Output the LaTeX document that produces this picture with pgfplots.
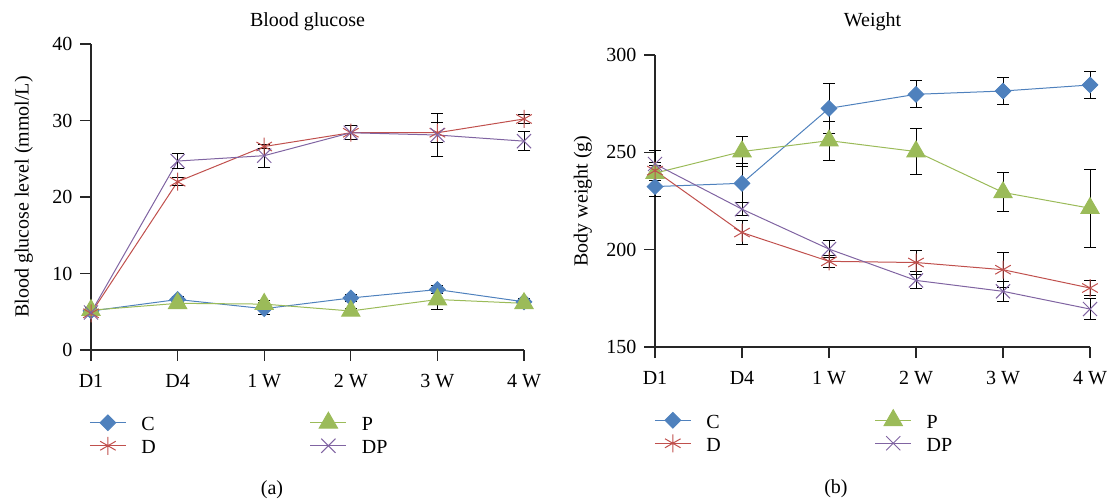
\documentclass[border=0pt]{standalone}
\usepackage{fontspec}
\setmainfont{Liberation Serif}
\usepackage{pgfplots}
\pgfplotsset{compat=1.18}
\definecolor{cC}{HTML}{4F81BD}
\definecolor{cD}{HTML}{C0504D}
\definecolor{cP}{HTML}{9BBB59}
\definecolor{cDP}{HTML}{8064A2}
\pgfplotsset{
  base/.style={
    scale only axis, clip=false,
    font=\fontsize{20}{24}\selectfont,
    axis lines=left, axis line style={-, line width=1.1pt, black!85},
    tick align=outside, major tick length=11pt,
    every tick/.style={line width=1.1pt, black!85},
    xmin=0, xmax=5, xtick={0,...,5},
    xticklabels={D1,D4,1 W,2 W,3 W,4 W},
    xticklabel style={yshift=-10pt},
    yticklabel style={xshift=-4pt},
    /pgf/number format/assume math mode=true,
    legend columns=2,
    legend cell align=left,
    legend style={draw=none, fill=none, font=\fontsize{20}{24}\selectfont, anchor=north west,
       nodes={text height=17pt},
       /tikz/every odd column/.append style={column sep=13pt},
       /tikz/every even column/.append style={column sep=152pt}},
    legend image code/.code={\path[draw=none,fill=none] (0pt,-11.5pt) -- (0pt,11.5pt);\draw[mark repeat=2,mark phase=2,##1] plot coordinates {(0pt,0pt) (18pt,0pt) (36pt,0pt)};},
  },
  eb/.style={error bars/.cd, y dir=both, y explicit,
    error bar style={black, line width=1pt},
    error mark options={black, line width=1pt, mark size=6pt, rotate=90}},
  sC/.style={color=cC, line width=1pt, mark=square*, mark size=5.5pt, mark options={rotate=45, fill=cC, draw=cC, solid}},
  sP/.style={color=cP, line width=1pt, mark=triangle*, mark size=10.5pt, mark options={fill=cP, draw=cP, solid}},
  sD/.style={color=cD, line width=1pt, mark=asterisk, mark size=9pt, mark options={draw=cD, line width=1pt, solid}},
  sDP/.style={color=cDP, line width=1pt, mark=x, mark size=10pt, mark options={draw=cDP, line width=1pt, solid}},
}
\begin{document}
\begin{tikzpicture}
\useasboundingbox (0pt,0pt) rectangle (1107pt,500pt);
% ---------------- (a) Blood glucose
\begin{axis}[base,
  at={(91pt,150pt)}, anchor=south west,
  width=433pt, height=306pt,
  ymin=0, ymax=40, ytick={0,10,20,30,40},
  title={Blood glucose},
  title style={at={(axis description cs:0.5,1)}, anchor=base, yshift=11pt},
  ylabel={Blood glucose level (mmol/L)},
  ylabel style={at={(axis description cs:-0.155,0.5)}, anchor=center},
  legend style={at={(axis description cs:-0.011,-0.193)}},
]
\addplot[sC, eb] coordinates {(0,5.1) +- (0,0.4) (1,6.6) +- (0,0.4) (2,5.4) +- (0,0.8) (3,6.8) +- (0,0.4) (4,7.9) +- (0,0.5) (5,6.3) +- (0,0.4)};
\addlegendentry{C}
\addplot[sP, eb] coordinates {(0,5.2) +- (0,0.3) (1,6.1) +- (0,0.3) (2,6.0) +- (0,0.5) (3,5.1) +- (0,0.3) (4,6.6) +- (0,1.3) (5,6.1) +- (0,0.3)};
\addlegendentry{P}
\addplot[sD, eb] coordinates {(0,4.8) +- (0,0.3) (1,22.0) +- (0,0.5) (2,26.6) +- (0,0.3) (3,28.4) +- (0,0.9) (4,28.4) +- (0,1.3) (5,30.2) +- (0,0.6)};
\addlegendentry{D}
\addplot[sDP, eb] coordinates {(0,4.9) +- (0,0.3) (1,24.7) +- (0,1.0) (2,25.4) +- (0,1.5) (3,28.4) +- (0,0.9) (4,28.1) +- (0,2.8) (5,27.3) +- (0,1.2)};
\addlegendentry{DP}
\node[font=\fontsize{20}{24}\selectfont] at (axis description cs:0.418,-0.4575) {(a)};
\end{axis}
% ---------------- (b) Weight
\begin{axis}[base,
  at={(655pt,153pt)}, anchor=south west,
  width=435pt, height=292pt,
  ymin=150, ymax=300, ytick={150,200,250,300},
  title={Weight},
  title style={at={(axis description cs:0.5,1)}, anchor=base, yshift=22pt},
  ylabel={Body weight (g)},
  ylabel style={at={(axis description cs:-0.166,0.5)}, anchor=center},
  legend style={at={(axis description cs:-0.009,-0.204)}},
]
\addplot[sC, eb] coordinates {(0,232.4) +- (0,5) (1,234.1) +- (0,10) (2,272.6) +- (0,12.7) (3,279.8) +- (0,7) (4,281.5) +- (0,7) (5,284.6) +- (0,7)};
\addlegendentry{C}
\addplot[sP, eb] coordinates {(0,239.3) +- (0,4) (1,250.4) +- (0,7.7) (2,256.0) +- (0,10) (3,250.4) +- (0,12) (4,229.4) +- (0,10) (5,221.3) +- (0,20)};
\addlegendentry{P}
\addplot[sD, eb] coordinates {(0,240.6) +- (0,4) (1,208.8) +- (0,6) (2,194.0) +- (0,3) (3,193.4) +- (0,6.4) (4,189.7) +- (0,9) (5,180.3) +- (0,4)};
\addlegendentry{D}
\addplot[sDP, eb] coordinates {(0,244.0) +- (0,7) (1,220.8) +- (0,3.5) (2,200.3) +- (0,4.4) (3,184.2) +- (0,4.4) (4,178.6) +- (0,5) (5,169.5) +- (0,5.5)};
\addlegendentry{DP}
\node[font=\fontsize{20}{24}\selectfont] at (axis description cs:0.416,-0.486) {(b)};
\end{axis}
\end{tikzpicture}
\end{document}
